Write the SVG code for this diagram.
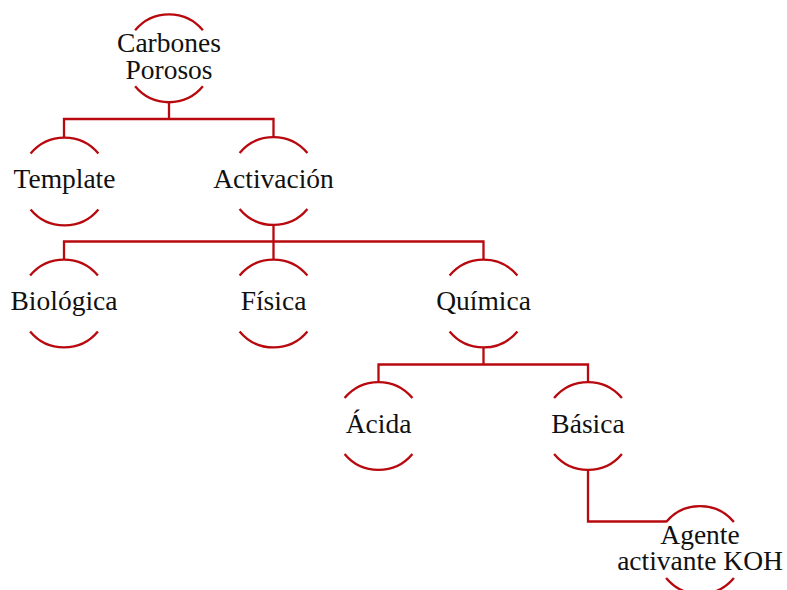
<svg xmlns="http://www.w3.org/2000/svg" xmlns:xlink="http://www.w3.org/1999/xlink" width="787" height="590" viewBox="0 0 787 590">
  <style>
    .arc { fill: none; stroke: #b8090f; stroke-width: 2.3; }
    .conn { fill: none; stroke: #b8090f; stroke-width: 2.3; }
    .lbl { font-family: "Liberation Serif", "Times New Roman", serif; font-size: 27.5px; fill: #111111; text-anchor: middle; }
  </style>
  <defs>
    <path id="arcs" class="arc" d="M-33.9,-28 A44,44 0 0 1 33.9,-28 M33.9,28 A44,44 0 0 1 -33.9,28"/>
  </defs>
  <rect width="787" height="590" fill="#ffffff"/>
  <g id="connectors">
    <path class="conn" d="M169,102.3 V119 M64,137.5 V119 H273.5 V137.5"/>
    <path class="conn" d="M273.5,225 V241.5 M64,259.5 V241.5 H483.5 V259.5 M273.5,241.5 V259.5"/>
    <path class="conn" d="M483.5,347.5 V364.5 M378.5,382 V364.5 H588 V382"/>
    <path class="conn" d="M588,470 V521.5 H666.5"/>
  </g>
  <g id="carbones-porosos" transform="translate(169,58.3)">
    <use xlink:href="#arcs"/>
    <text class="lbl" x="0" y="-6.5">Carbones<tspan x="0" dy="26.8">Porosos</tspan></text>
  </g>
  <g id="template" transform="translate(64.5,181.5)">
    <use xlink:href="#arcs"/>
    <text class="lbl" x="0" y="6.8">Template</text>
  </g>
  <g id="activacion" transform="translate(273.5,181)">
    <use xlink:href="#arcs"/>
    <text class="lbl" x="0" y="6.8">Activación</text>
  </g>
  <g id="biologica" transform="translate(64,303.5)">
    <use xlink:href="#arcs"/>
    <text class="lbl" x="0" y="6.8">Biológica</text>
  </g>
  <g id="fisica" transform="translate(273.5,303.5)">
    <use xlink:href="#arcs"/>
    <text class="lbl" x="0" y="6.8">Física</text>
  </g>
  <g id="quimica" transform="translate(483.5,303.5)">
    <use xlink:href="#arcs"/>
    <text class="lbl" x="0" y="6.8">Química</text>
  </g>
  <g id="acida" transform="translate(378.5,426)">
    <use xlink:href="#arcs"/>
    <text class="lbl" x="0" y="6.8">Ácida</text>
  </g>
  <g id="basica" transform="translate(588,426)">
    <use xlink:href="#arcs"/>
    <text class="lbl" x="0" y="6.8">Básica</text>
  </g>
  <g id="agente-koh" transform="translate(700,550)">
    <use xlink:href="#arcs"/>
    <text class="lbl" x="0" y="-6.5">Agente<tspan x="0" dy="26.8">activante KOH</tspan></text>
  </g>
</svg>
